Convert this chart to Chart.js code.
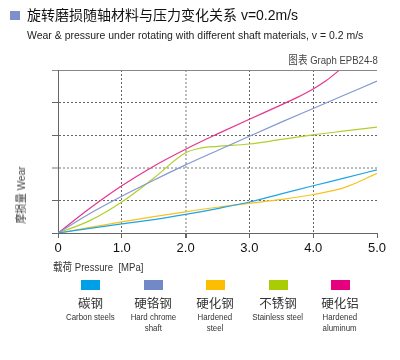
<!DOCTYPE html>
<html>
<head>
<meta charset="utf-8">
<script src="https://cdn.jsdelivr.net/npm/chart.js@4.4.1/dist/chart.umd.min.js"></script>
<style>
  body { margin: 0; background: #fff; }
  #wrap { position: relative; width: 400px; height: 360px; overflow: hidden;
          font-family: "Liberation Sans", Arial, "Noto Sans CJK SC", sans-serif; }
  #chart { position: absolute; left: 0; top: 0; }
  .abs { position: absolute; white-space: nowrap; }
  #mark { left: 10px; top: 11px; width: 10px; height: 9px; background: #7f8fcc; }
  #title { left: 27px; top: 6px; font-size: 14px; line-height: 18px; color: #111; }
  #subtitle { left: 27px; top: 28px; font-size: 11px; line-height: 14px; color: #222;
              transform: scaleX(0.952); transform-origin: left center; }
  #graphNo { right: 22px; top: 53px; font-size: 11px; line-height: 14px; color: #444;
             transform: scaleX(0.87); transform-origin: right center; }
  #xTitle { left: 53px; top: 260px; font-size: 11px; line-height: 15px; color: #333;
            transform: scaleX(0.87); transform-origin: left center; }
  #yTitle { left: 21px; top: 195px; font-size: 11px; line-height: 14px; color: #444;
            transform: translate(-50%, -50%) rotate(-90deg) scaleX(0.92); }
  .item { position: absolute; top: 280px; width: 70px; margin-left: -35px; text-align: center; }
  .box { width: 19px; height: 10px; margin: 0 auto; }
  .zh { margin-top: 5px; font-size: 12.5px; line-height: 16px; color: #333;
        font-family: "Noto Sans CJK SC", sans-serif; }
  .en { font-size: 9.5px; line-height: 11px; color: #333; }
  .en span { display: inline-block; transform: scaleX(0.83); }
</style>
</head>
<body>
<div id="wrap">
  <canvas id="chart" width="400" height="360"></canvas>
  <div id="mark" class="abs"></div>
  <div id="title" class="abs">旋转磨损随轴材料与压力变化关系 v=0.2m/s</div>
  <div id="subtitle" class="abs">Wear &amp; pressure under rotating with different shaft materials, v = 0.2 m/s</div>
  <div id="graphNo" class="abs">图表 Graph EPB24-8</div>
  <div id="xTitle" class="abs">载荷 Pressure&nbsp; [MPa]</div>
  <div id="yTitle" class="abs">摩损量 Wear</div>
  <div id="legend"></div>
</div>
<script>
// pressure (MPa) sample points
const pressure = [0, 0.5, 1, 1.5, 2, 2.5, 3, 3.5, 4, 4.5, 5];
const stainlessPressure = [0, 0.5, 1, 1.5, 2, 2.25, 2.5, 3, 3.5, 4, 4.5, 5];
const aluminumPressure = [0, 0.5, 1, 1.5, 2, 2.5, 3, 3.5, 3.75, 4, 4.2, 4.4];

// wear values (grid units)
const carbonSteel = [0, 0.14, 0.28, 0.41, 0.57, 0.75, 0.95, 1.2, 1.45, 1.69, 1.94];
const hardChrome = [0, 0.6, 1.13, 1.62, 2.09, 2.53, 2.97, 3.4, 3.82, 4.24, 4.66];
const hardenedSteel = [0, 0.17, 0.34, 0.5, 0.65, 0.79, 0.91, 1.03, 1.18, 1.4, 1.83];
const stainlessSteel = [0, 0.38, 0.95, 1.68, 2.46, 2.61, 2.66, 2.73, 2.87, 3.01, 3.13, 3.25];
const hardenedAluminum = [0, 0.76, 1.45, 2.05, 2.57, 3.04, 3.49, 3.93, 4.16, 4.42, 4.67, 4.98];

const xTickLabels = ['0', '1.0', '2.0', '3.0', '4.0', '5.0'];

const seriesNamesZh = ['碳钢', '硬铬钢', '硬化钢', '不锈钢', '硬化铝'];
const seriesNamesEn = [['Carbon steels'], ['Hard chrome', 'shaft'], ['Hardened', 'steel'], ['Stainless steel'], ['Hardened', 'aluminum']];
const lineColors = ['#1ea5e6', '#8497d2', '#f8c21f', '#b0d02a', '#e7348b'];
const boxColors = ['#00a0e9', '#7289c7', '#fbbe00', '#a9cd05', '#e5007e'];

const toPoints = (xs, ys) => xs.map((x, i) => ({ x: x, y: ys[i] }));

const seriesData = [
  toPoints(pressure, carbonSteel),
  toPoints(pressure, hardChrome),
  toPoints(pressure, hardenedSteel),
  toPoints(stainlessPressure, stainlessSteel),
  toPoints(aluminumPressure, hardenedAluminum)
];

// legend (html)
const legendEl = document.getElementById('legend');
const legendCenters = [90.5, 153, 215, 278, 340];
seriesNamesZh.forEach((name, i) => {
  const item = document.createElement('div');
  item.className = 'item';
  item.style.left = legendCenters[i] + 'px';
  item.innerHTML = '<div class="box" style="background:' + boxColors[i] + '"></div>' +
    '<div class="zh">' + name + '</div>' +
    seriesNamesEn[i].map(t => '<div class="en"><span>' + t + '</span></div>').join('');
  legendEl.appendChild(item);
});

const tickVal = ctx => (ctx.tick ? ctx.tick.value : null);

new Chart(document.getElementById('chart'), {
  type: 'line',
  data: {
    datasets: seriesData.map((d, i) => ({
      label: seriesNamesEn[i].join(' '),
      data: d,
      borderColor: lineColors[i],
      borderWidth: 1.2,
      pointRadius: 0,
      fill: false,
      cubicInterpolationMode: 'monotone'
    }))
  },
  options: {
    responsive: false,
    animation: false,
    devicePixelRatio: 1,
    layout: { padding: { left: 0, right: 23, top: 70, bottom: 0 } },
    plugins: { legend: { display: false }, tooltip: { enabled: false } },
    scales: {
      x: {
        type: 'linear',
        min: 0,
        max: 5,
        afterFit: s => { s.height = 127; },
        ticks: {
          stepSize: 1,
          padding: 3,
          color: '#111',
          font: { family: 'Liberation Sans', size: 13 },
          callback: v => xTickLabels[v]
        },
        grid: {
          color: ctx => tickVal(ctx) === 5 ? 'rgba(0,0,0,0)' : (tickVal(ctx) === 2 ? '#bbb' : '#666'),
          lineWidth: ctx => tickVal(ctx) === 2 ? 2 : 1,
          tickColor: '#666',
          tickLength: 5
        },
        border: { color: '#666', width: 1, dash: [2, 2] }
      },
      y: {
        min: 0,
        max: 5,
        afterFit: s => { s.width = 58; },
        ticks: { stepSize: 1, callback: () => '' },
        grid: {
          color: ctx => tickVal(ctx) === 2 ? '#bbb' : (tickVal(ctx) === 5 ? '#888' : '#666'),
          lineWidth: ctx => tickVal(ctx) === 2 ? 2 : 1,
          tickLength: 6
        },
        border: {
          color: '#666',
          width: 1,
          dash: ctx => tickVal(ctx) === 5 ? [] : [2, 2]
        }
      }
    }
  }
});
</script>
</body>
</html>
